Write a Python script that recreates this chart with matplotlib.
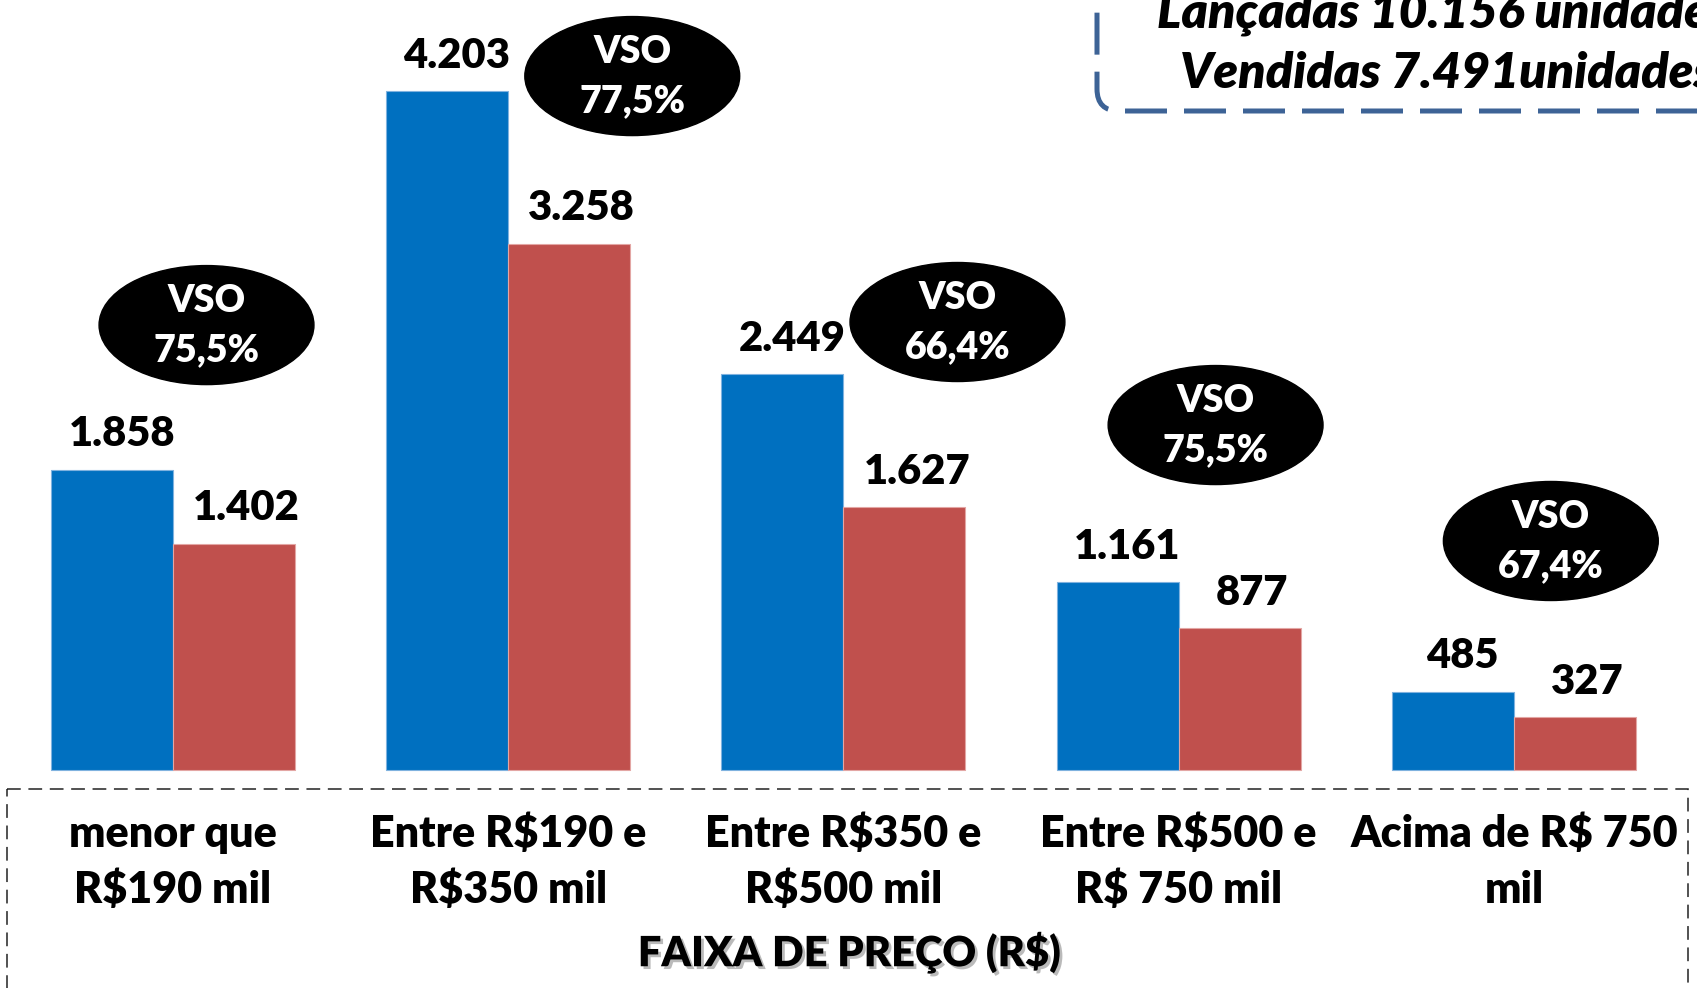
import numpy as np
import matplotlib
matplotlib.use('Agg')
import matplotlib.pyplot as plt
import matplotlib.patheffects as pe
from matplotlib import font_manager as fm
from matplotlib.patches import Ellipse, FancyBboxPatch, Rectangle

# ----- DATA -----
faixas = ['menor que\nR$190 mil', 'Entre R$190 e\nR$350 mil', 'Entre R$350 e\nR$500 mil',
          'Entre R$500 e\nR$ 750 mil', 'Acima de R$ 750\nmil']
lancadas = [1858, 4203, 2449, 1161, 485]
vendidas = [1402, 3258, 1627, 877, 327]
total_lancadas = '10.156'
total_vendidas = '7.491'

# where the VSO bubbles sit (data coords)
vso_pos = [(0.10, 2755), (1.37, 4297), (2.34, 2774), (3.11, 2136), (4.11, 1418)]

W, H = 1697, 988
names = {f.name for f in fm.fontManager.ttflist}
main_font = 'Lato' if 'Lato' in names else 'DejaVu Sans'
plt.rcParams['font.family'] = [main_font, 'DejaVu Sans']
BOLD = 'heavy'


def br(n):
    return f'{n:,}'.replace(',', '.')


fig = plt.figure(figsize=(W / 100, H / 100), dpi=100)
ax = fig.add_axes([0, 0, 1, 1])
ax.set_xlim(-0.516, 4.546)
ax.set_ylim(-1350, 4768)
ax.axis('off')

x = np.arange(len(faixas))
w = 0.364
ax.bar(x - w / 2, lancadas, w, color='#0070C0', edgecolor='#7FB2DF', linewidth=0.8)
ax.bar(x + w / 2, vendidas, w, color='#C0504D', edgecolor='#E3A6A4', linewidth=0.8)

for i in range(len(faixas)):
    ax.annotate(br(lancadas[i]), (x[i] - w / 2, lancadas[i]), xytext=(7, 17),
                textcoords='offset points', ha='center', va='baseline',
                fontsize=30, fontweight=BOLD)
    ax.annotate(br(vendidas[i]), (x[i] + w / 2, vendidas[i]), xytext=(9, 17),
                textcoords='offset points', ha='center', va='baseline',
                fontsize=30, fontweight=BOLD)

    ex, ey = vso_pos[i]
    ax.add_patch(Ellipse((ex, ey), 0.641, 737, facecolor='black', edgecolor='black'))
    pct = f'{vendidas[i] / lancadas[i] * 100:.1f}%'.replace('.', ',')
    ax.annotate('VSO', (ex, ey), xytext=(0, 17), textcoords='offset points',
                ha='center', va='center', color='white', fontsize=27, fontweight=BOLD)
    ax.annotate(pct, (ex, ey), xytext=(0, -18), textcoords='offset points',
                ha='center', va='center', color='white', fontsize=27, fontweight=BOLD)

    line1, line2 = faixas[i].split('\n')
    ax.annotate(line1, (x[i], 0), xytext=(0, -55.5), textcoords='offset points',
                ha='center', va='baseline', fontsize=31, fontweight=BOLD)
    ax.annotate(line2, (x[i], 0), xytext=(0, -96), textcoords='offset points',
                ha='center', va='baseline', fontsize=31, fontweight=BOLD)

# overlay in pixel coords for the boxes and titles
ov = fig.add_axes([0, 0, 1, 1], facecolor='none')
ov.set_xlim(0, W)
ov.set_ylim(H, 0)
ov.axis('off')

ov.add_patch(Rectangle((7, 789), 1681, 260, fill=False, edgecolor='#222222',
                       linewidth=1.1, linestyle=(0, (9, 5))))
ov.text(849, 953, 'FAIXA DE PREÇO (R$)', ha='center', va='center', fontsize=30,
        fontweight=BOLD,
        path_effects=[pe.SimplePatchShadow(offset=(2, -2), shadow_rgbFace='#777777', alpha=0.5),
                      pe.Normal()])

ov.add_patch(FancyBboxPatch((1097, -150), 900, 261,
                            boxstyle='round,pad=0,rounding_size=22', fill=False,
                            edgecolor='#3D6396', linewidth=3.6, linestyle=(0, (8.4, 3.4))))
ov.text(1157, 13, f'Lançadas {total_lancadas} unidades', ha='left', va='center',
        fontsize=36, fontweight=BOLD, style='italic')
ov.text(1180, 73, f'Vendidas {total_vendidas}unidades', ha='left', va='center',
        fontsize=36, fontweight=BOLD, style='italic')

fig.savefig('out.png', dpi=100)
